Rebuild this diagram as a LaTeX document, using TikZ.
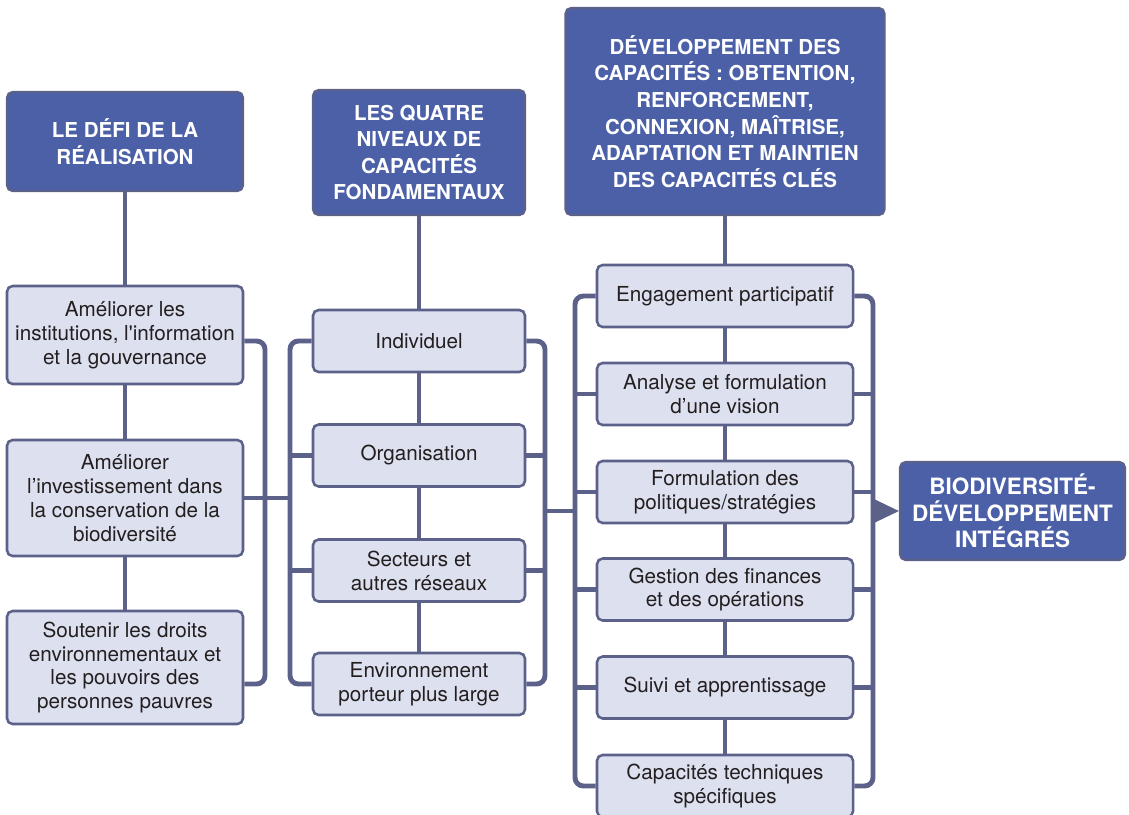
\documentclass[tikz,border=0pt]{standalone}
\usepackage{fontspec}
\setmainfont{TeX Gyre Heros}
\definecolor{titrebleu}{RGB}{76,96,168}
\definecolor{cadre}{RGB}{92,97,138}
\definecolor{fond}{RGB}{221,224,239}
\definecolor{texte}{RGB}{35,31,32}
\tikzset{
	titre/.style={draw=cadre,line width=1.6pt,fill=titrebleu,rounded corners=4pt,text=white,align=center,inner sep=0pt,font=\fontsize{14.6}{18.9}\selectfont\bfseries},
	niveau/.style={draw=cadre,line width=1.8pt,fill=fond,rounded corners=4pt,text=texte,align=center,inner sep=0pt,font=\fontsize{14.7}{17}\selectfont},
	lien/.style={draw=cadre,line width=3.5pt},
	crochet/.style={lien,rounded corners=6pt}
}
\begin{document}
\begin{tikzpicture}[x=0.25mm,y=-0.25mm]
		\useasboundingbox (0,0) rectangle (1129,814);
		\node[titre,minimum width=59mm,minimum height=24.75mm] (defi) at (125,141.5) {LE DÉFI DE LA\\RÉALISATION};
		\node[niveau,minimum width=59mm,minimum height=24.5mm] (a1) at (125,335) {Améliorer les\\institutions, l\textquotesingle information\\et la gouvernance};
		\node[niveau,minimum width=59mm,minimum height=29mm] (a2) at (125,498) {Améliorer\\l’investissement dans\\la conservation de la\\biodiversité};
		\node[niveau,minimum width=59mm,minimum height=28.25mm] (a3) at (125,667.5) {Soutenir les droits\\environnementaux et\\les pouvoirs des\\personnes pauvres};
		\node[titre,minimum width=53mm,minimum height=31.25mm] (quatre) at (419,152.5) {LES QUATRE\\NIVEAUX DE\\CAPACITÉS\\FONDAMENTAUX};
		\node[niveau,minimum width=53mm,minimum height=15.5mm] (b1) at (419,341) {Individuel};
		\node[niveau,minimum width=53mm,minimum height=15.5mm] (b2) at (419,455.5) {Organisation};
		\node[niveau,minimum width=53mm,minimum height=15.5mm] (b3) at (419,570.5) {Secteurs et\\autres réseaux};
		\node[niveau,minimum width=53mm,minimum height=15.5mm] (b4) at (419,684) {Environnement\\porteur plus large};
		\node[titre,minimum width=79.75mm,minimum height=51.75mm] (devcap) at (725,111.5) {DÉVELOPPEMENT DES\\CAPACITÉS : OBTENTION,\\RENFORCEMENT,\\CONNEXION, MAÎTRISE,\\ADAPTATION ET MAINTIEN\\DES CAPACITÉS CLÉS};
		\node[niveau,minimum width=64mm,minimum height=15.5mm] (c1) at (725,296) {Engagement participatif};
		\node[niveau,minimum width=64mm,minimum height=15.5mm] (c2) at (725,394) {Analyse et formulation\\d’une vision};
		\node[niveau,minimum width=64mm,minimum height=15.5mm] (c3) at (725,492) {Formulation des\\politiques/stratégies};
		\node[niveau,minimum width=64mm,minimum height=15.5mm] (c4) at (725,589.5) {Gestion des finances\\et des opérations};
		\node[niveau,minimum width=64mm,minimum height=15.5mm] (c5) at (725,687.5) {Suivi et apprentissage};
		\node[niveau,minimum width=64mm,minimum height=15.5mm] (c6) at (725,786) {Capacités techniques\\spécifiques};
		\node[titre,minimum width=56.25mm,minimum height=24.5mm,font=\fontsize{16}{19}\selectfont\bfseries] (fin) at (1012.5,511) {BIODIVERSITÉ-\\DÉVELOPPEMENT\\INTÉGRÉS};
		\coordinate (r1) at (265,0);
		\coordinate (l2) at (290,0);
		\coordinate (r2) at (545,0);
		\coordinate (l3) at (575,0);
		\coordinate (r3) at (873,0);
		\draw[lien] (defi.south) -- (a1.north) (a1.south) -- (a2.north) (a2.south) -- (a3.north);
		\draw[lien] (quatre.south) -- (b1.north) (b1.south) -- (b2.north) (b2.south) -- (b3.north) (b3.south) -- (b4.north);
		\draw[lien] (devcap.south) -- (c1.north);
		\foreach \i/\j in {1/2,2/3,3/4,4/5,5/6}
			\draw[lien] (c\i.south) -- (c\j.north);
		\draw[crochet] (a1.east |- b1) -- (r1 |- b1) -- (r1 |- b4) -- (a3.east |- b4);
		\draw[lien] (a2.east) -- (l2 |- a2.east);
		\draw[crochet] (b1.west) -- (l2 |- b1) -- (l2 |- b4) -- (b4.west);
		\draw[crochet] (b1.east) -- (r2 |- b1) -- (r2 |- b4) -- (b4.east);
		\foreach \n in {b2,b3}
			\draw[lien] (\n.west) -- (l2 |- \n) (\n.east) -- (r2 |- \n);
		\draw[lien] (r2 |- fin) -- (l3 |- fin);
		\draw[crochet] (c1.west) -- (l3 |- c1) -- (l3 |- c6) -- (c6.west);
		\draw[crochet] (c1.east) -- (r3 |- c1) -- (r3 |- c6) -- (c6.east);
		\foreach \i in {2,...,5}
			\draw[lien] (c\i.west) -- (l3 |- c\i) (c\i.east) -- (r3 |- c\i);
		\fill[cadre] (fin.west) -- ++(-27,-13) -- ++(0,26) -- cycle;
\end{tikzpicture}
\end{document}
